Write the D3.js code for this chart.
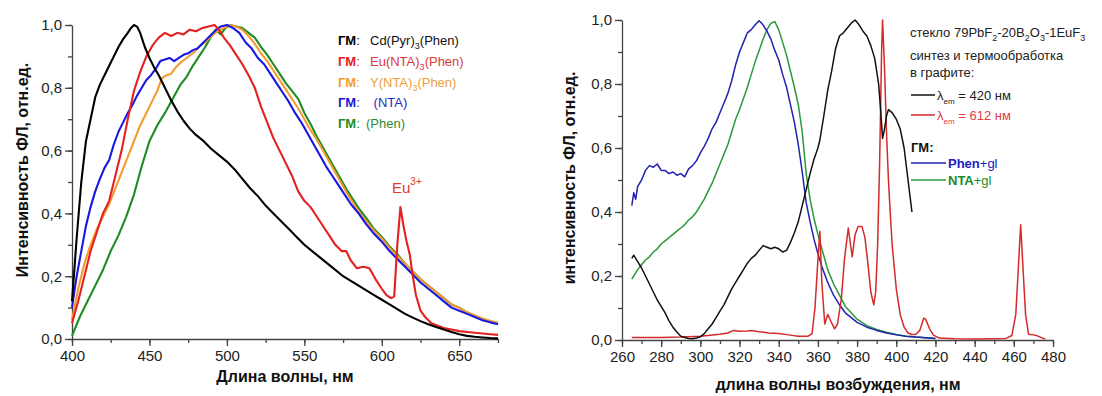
<!DOCTYPE html>
<html>
<head>
<meta charset="utf-8">
<script src="https://cdn.jsdelivr.net/npm/d3@7"></script>
<style>
  body { margin: 0; background: #fff; }
  svg text { font-family: Arial, "Liberation Sans", sans-serif; }
</style>
</head>
<body>
<div id="chart_div"></div>
<script>
// ---- data: left panel, emission spectra (nm, rel. intensity) ----
var cdPyrPhen = [[400,0.12],[403,0.32],[406,0.5],[409,0.63],[412,0.7],[415,0.77],[418,0.81],[421,0.84],[424,0.87],[427,0.9],[430,0.93],[433,0.955],[436,0.975],[438,0.99],[440,1.0],[442,0.995],[444,0.975],[447,0.93],[450,0.895],[453,0.865],[456,0.84],[460,0.8],[464,0.76],[468,0.725],[472,0.695],[476,0.67],[480,0.65],[485,0.63],[490,0.605],[495,0.585],[500,0.565],[505,0.54],[510,0.51],[515,0.48],[520,0.455],[525,0.425],[530,0.4],[535,0.375],[540,0.35],[545,0.325],[550,0.3],[555,0.28],[560,0.26],[565,0.24],[570,0.22],[575,0.2],[580,0.185],[585,0.17],[590,0.155],[595,0.14],[600,0.125],[605,0.11],[610,0.095],[615,0.08],[620,0.068],[625,0.057],[630,0.047],[635,0.038],[640,0.03],[645,0.022],[650,0.015],[655,0.01],[660,0.007],[665,0.005],[670,0.003],[675,0.002]];
var euNtaPhen = [[400,0.05],[404,0.12],[408,0.2],[412,0.28],[416,0.34],[420,0.4],[424,0.44],[428,0.52],[432,0.6],[436,0.7],[440,0.79],[444,0.85],[448,0.9],[452,0.935],[456,0.96],[460,0.975],[464,0.965],[468,0.975],[472,0.97],[476,0.985],[480,0.98],[484,0.99],[488,0.995],[492,1.0],[495,0.985],[498,0.96],[502,0.935],[506,0.905],[510,0.875],[514,0.84],[518,0.8],[522,0.74],[526,0.69],[530,0.64],[534,0.6],[538,0.56],[542,0.52],[546,0.47],[550,0.44],[554,0.42],[558,0.39],[562,0.36],[566,0.33],[570,0.3],[574,0.28],[577,0.28],[580,0.25],[584,0.225],[588,0.23],[592,0.225],[596,0.19],[600,0.16],[603,0.14],[606,0.13],[608,0.135],[610,0.3],[612,0.42],[614,0.36],[616,0.31],[618,0.27],[620,0.2],[622,0.14],[625,0.09],[628,0.07],[632,0.05],[640,0.035],[650,0.025],[660,0.02],[670,0.015],[675,0.013]];
var yNtaPhen = [[400,0.06],[404,0.16],[408,0.24],[412,0.3],[416,0.35],[420,0.39],[424,0.43],[428,0.48],[432,0.53],[436,0.58],[440,0.63],[444,0.68],[448,0.72],[452,0.76],[455,0.79],[458,0.83],[461,0.84],[464,0.845],[467,0.865],[470,0.88],[474,0.895],[478,0.91],[482,0.93],[486,0.945],[490,0.965],[494,0.98],[498,0.99],[502,1.0],[506,0.995],[510,0.985],[514,0.965],[518,0.94],[522,0.91],[526,0.885],[530,0.855],[534,0.825],[538,0.795],[542,0.765],[546,0.735],[550,0.7],[554,0.665],[558,0.635],[562,0.6],[566,0.565],[570,0.53],[574,0.495],[578,0.46],[582,0.43],[586,0.4],[590,0.375],[595,0.345],[600,0.32],[605,0.29],[610,0.265],[615,0.24],[620,0.215],[625,0.19],[630,0.17],[635,0.15],[640,0.13],[645,0.11],[650,0.1],[655,0.085],[660,0.075],[665,0.065],[670,0.058],[675,0.052]];
var ntaOnly = [[400,0.1],[403,0.2],[406,0.28],[409,0.36],[412,0.42],[415,0.47],[418,0.51],[421,0.545],[424,0.57],[427,0.62],[430,0.66],[433,0.69],[436,0.72],[439,0.745],[442,0.775],[445,0.8],[448,0.825],[451,0.84],[454,0.86],[457,0.885],[460,0.89],[463,0.895],[466,0.885],[469,0.895],[472,0.905],[475,0.91],[478,0.92],[481,0.925],[484,0.94],[487,0.955],[490,0.97],[493,0.985],[496,0.995],[500,1.0],[504,0.99],[508,0.975],[512,0.945],[516,0.925],[520,0.895],[524,0.875],[528,0.845],[532,0.815],[536,0.785],[540,0.755],[544,0.72],[548,0.69],[552,0.655],[556,0.62],[560,0.585],[564,0.55],[568,0.52],[572,0.49],[576,0.46],[580,0.43],[585,0.4],[590,0.365],[595,0.335],[600,0.31],[605,0.28],[610,0.255],[615,0.23],[620,0.205],[625,0.18],[630,0.16],[635,0.14],[640,0.12],[645,0.1],[650,0.09],[655,0.08],[660,0.07],[665,0.06],[670,0.053],[675,0.047]];
var phenOnly = [[400,0.01],[405,0.07],[410,0.12],[415,0.17],[420,0.22],[425,0.28],[430,0.33],[435,0.39],[440,0.46],[445,0.55],[450,0.63],[455,0.68],[460,0.72],[465,0.765],[470,0.81],[474,0.835],[478,0.87],[482,0.9],[486,0.93],[490,0.965],[493,0.985],[496,0.97],[499,0.99],[502,1.0],[506,0.995],[510,0.99],[514,0.975],[518,0.96],[522,0.93],[526,0.905],[530,0.875],[534,0.845],[538,0.815],[542,0.79],[546,0.765],[550,0.72],[554,0.685],[558,0.645],[562,0.61],[566,0.575],[570,0.54],[574,0.505],[578,0.47],[582,0.44],[586,0.41],[590,0.385],[595,0.35],[600,0.325],[605,0.295],[610,0.27],[615,0.24],[620,0.215],[625,0.19],[630,0.17],[635,0.15],[640,0.13],[645,0.11],[650,0.1],[655,0.085],[660,0.073],[665,0.064],[670,0.056],[675,0.05]];

// ---- data: right panel, excitation spectra ----
var phenGl = [[265,0.42],[266,0.46],[267,0.44],[268,0.48],[270,0.5],[272,0.53],[274,0.545],[276,0.54],[278,0.55],[280,0.53],[282,0.53],[284,0.52],[286,0.525],[288,0.515],[290,0.52],[292,0.51],[294,0.535],[296,0.545],[298,0.56],[300,0.585],[302,0.605],[304,0.63],[306,0.66],[308,0.68],[310,0.71],[312,0.74],[314,0.77],[316,0.81],[318,0.86],[320,0.9],[322,0.93],[324,0.96],[326,0.97],[328,0.985],[330,0.998],[332,0.985],[334,0.965],[336,0.94],[338,0.905],[340,0.875],[342,0.83],[344,0.79],[346,0.735],[348,0.68],[350,0.61],[352,0.525],[354,0.43],[356,0.37],[358,0.315],[360,0.27],[362,0.23],[365,0.18],[368,0.14],[371,0.11],[374,0.085],[377,0.07],[380,0.055],[385,0.04],[390,0.03],[395,0.022],[400,0.016],[405,0.012],[410,0.009],[415,0.007],[420,0.005]];
var ntaGl = [[265,0.19],[266,0.2],[268,0.22],[270,0.235],[272,0.25],[274,0.26],[276,0.275],[278,0.285],[280,0.3],[282,0.31],[284,0.32],[286,0.33],[288,0.34],[290,0.35],[292,0.36],[294,0.375],[296,0.385],[298,0.4],[300,0.42],[302,0.44],[304,0.465],[306,0.49],[308,0.52],[310,0.55],[312,0.58],[314,0.61],[316,0.65],[318,0.69],[320,0.72],[322,0.755],[324,0.79],[326,0.83],[328,0.87],[330,0.905],[332,0.94],[334,0.97],[336,0.99],[338,0.995],[340,0.97],[342,0.93],[344,0.89],[346,0.84],[348,0.79],[350,0.735],[352,0.65],[354,0.52],[356,0.44],[358,0.38],[360,0.33],[362,0.285],[365,0.22],[368,0.175],[371,0.14],[374,0.105],[377,0.085],[380,0.065],[385,0.045],[390,0.033],[395,0.024],[400,0.017],[405,0.012],[410,0.009],[415,0.007],[420,0.005]];
var em420 = [[265,0.255],[266,0.265],[267,0.255],[268,0.245],[270,0.225],[272,0.2],[274,0.175],[276,0.15],[278,0.125],[280,0.105],[282,0.085],[284,0.06],[286,0.04],[288,0.025],[290,0.012],[292,0.008],[294,0.005],[296,0.004],[298,0.006],[300,0.01],[302,0.02],[304,0.035],[306,0.05],[308,0.07],[310,0.09],[312,0.11],[314,0.135],[316,0.16],[318,0.18],[320,0.2],[322,0.22],[324,0.24],[326,0.255],[328,0.265],[330,0.28],[332,0.295],[334,0.29],[336,0.285],[338,0.29],[340,0.285],[342,0.275],[344,0.28],[346,0.305],[348,0.335],[350,0.37],[352,0.42],[354,0.47],[356,0.52],[358,0.565],[360,0.6],[361,0.625],[363,0.7],[365,0.78],[367,0.84],[369,0.91],[371,0.95],[373,0.96],[375,0.975],[377,0.99],[379,1.0],[381,0.985],[383,0.965],[385,0.95],[387,0.92],[389,0.88],[391,0.8],[392,0.72],[393,0.63],[394,0.66],[395,0.7],[396,0.72],[398,0.71],[400,0.69],[402,0.66],[404,0.6],[406,0.5],[407,0.45],[408,0.4]];
var em612 = [[265,0.008],[270,0.008],[280,0.008],[290,0.009],[300,0.012],[305,0.015],[310,0.018],[314,0.022],[317,0.03],[320,0.027],[324,0.028],[326,0.03],[330,0.026],[335,0.022],[340,0.02],[345,0.016],[350,0.012],[355,0.012],[357,0.02],[358.5,0.1],[360,0.25],[361,0.34],[362,0.18],[363.5,0.05],[365,0.08],[366.5,0.06],[368.5,0.035],[370,0.05],[372,0.13],[373.5,0.25],[375.5,0.35],[377.5,0.26],[379,0.33],[380.5,0.355],[382.5,0.355],[384,0.32],[385.5,0.24],[387,0.15],[388.5,0.11],[389.5,0.15],[390.5,0.3],[391.5,0.55],[392.5,0.9],[393,1.0],[394,0.85],[395,0.65],[396,0.5],[397,0.39],[398,0.29],[400,0.16],[402,0.08],[404,0.04],[406,0.022],[408,0.017],[410,0.018],[412,0.03],[414,0.068],[415,0.065],[417,0.035],[419,0.015],[422,0.006],[430,0.004],[440,0.003],[450,0.004],[456,0.005],[459,0.014],[461,0.08],[462,0.19],[463.5,0.36],[465,0.19],[466,0.08],[467.5,0.018],[470,0.016],[472,0.013],[475,0.005],[476,0.003]];

var leftXTicks = [400, 450, 500, 550, 600, 650];
var rightXTicks = [260, 280, 300, 320, 340, 360, 380, 400, 420, 440, 460, 480];
var yTicks = [0, 0.2, 0.4, 0.6, 0.8, 1.0];

var w = 1102, h = 396;
var svg = d3.select("#chart_div").append("svg")
    .attr("width", w).attr("height", h);

function fmt(d){ return d3.format(".1f")(d).replace(".", ","); }

function draw_axes(g, x, y, xTicks, xMinorStep){
    var xr = x.domain();
    var minor = d3.range(xr[0], xr[1] + 0.001, xMinorStep);
    g.append("g").attr("transform", "translate(0," + y(0) + ")")
        .call(d3.axisBottom(x).tickValues(minor).tickSize(4).tickFormat(""))
        .call(s => s.select(".domain").remove());
    g.append("g").attr("transform", "translate(0," + y(0) + ")")
        .call(d3.axisBottom(x).tickValues(xTicks).tickSize(7).tickSizeOuter(0).tickPadding(4).tickFormat(d3.format("d")));
    g.append("g").attr("transform", "translate(" + x(xr[0]) + ",0)")
        .call(d3.axisLeft(y).tickValues(d3.range(0, 1.01, 0.1)).tickSize(4).tickFormat(""))
        .call(s => s.select(".domain").remove());
    g.append("g").attr("transform", "translate(" + x(xr[0]) + ",0)")
        .call(d3.axisLeft(y).tickValues(yTicks).tickSize(7).tickSizeOuter(0).tickPadding(3).tickFormat(fmt));
    g.selectAll(".domain, .tick line").attr("stroke", "#444").attr("stroke-width", 1.3);
    g.selectAll(".tick text").attr("font-size", "15px").attr("fill", "#222")
        .style("font-family", "Arial, 'Liberation Sans', sans-serif");
}

// ---------------- left panel ----------------
var xL = d3.scaleLinear().domain([400, 675]).range([72, 498]);
var yL = d3.scaleLinear().domain([0, 1]).range([339, 25]);
var gL = svg.append("g");
draw_axes(gL, xL, yL, leftXTicks, 25);

var lineL = d3.line().x(d => xL(d[0])).y(d => yL(d[1]));
var leftSeries = [
    {data: phenOnly, color: "#1e8c24"},
    {data: yNtaPhen, color: "#f39b2f"},
    {data: ntaOnly, color: "#1818e0"},
    {data: euNtaPhen, color: "#e42020"},
    {data: cdPyrPhen, color: "#000000"}
];
leftSeries.forEach(function(s){
    gL.append("path").attr("d", lineL(s.data))
        .attr("fill", "none").attr("stroke", s.color).attr("stroke-width", 2.1)
        .attr("stroke-linejoin", "round");
});

var leftLegend = [
    {name: ["Cd(Pyr)", "3", "(Phen)"], color: "#000000", text: "#111"},
    {name: ["Eu(NTA)", "3", "(Phen)"], color: "#e42020", text: "#d83a3a"},
    {name: ["Y(NTA)", "3", "(Phen)"], color: "#f39b2f", text: "#eea040"},
    {name: [" (NTA)"], color: "#1818d0", text: "#2a2ab8"},
    {name: ["(Phen)"], color: "#1e8c24", text: "#2e8a34"}
];
leftLegend.forEach(function(d, i){
    var t = gL.append("text").attr("x", 338).attr("y", 45 + i * 20.8).attr("font-size", "13px");
    t.append("tspan").attr("font-weight", "bold").attr("fill", d.color).text("ГМ");
    t.append("tspan").attr("fill", d.color).text(":");
    var nt = gL.append("text").attr("x", i == 4 ? 366 : 370).attr("y", 45 + i * 20.8)
        .attr("font-size", "13px").attr("fill", d.text).attr("xml:space", "preserve");
    nt.append("tspan").text(d.name[0]);
    if (d.name.length > 1){
        nt.append("tspan").attr("font-size", "9px").attr("dy", 4).text(d.name[1]);
        nt.append("tspan").attr("dy", -4).text(d.name[2]);
    }
});
var eu = gL.append("text").attr("x", 392).attr("y", 193).attr("font-size", "15px").attr("fill", "#d83a3a");
eu.append("tspan").text("Eu");
eu.append("tspan").attr("font-size", "10px").attr("dy", -8).text("3+");

gL.append("text").attr("x", 285).attr("y", 382).attr("text-anchor", "middle")
    .attr("font-size", "16px").attr("font-weight", "bold").attr("fill", "#111")
    .text("Длина волны, нм");
gL.append("text").attr("transform", "translate(28,170) rotate(-90)").attr("text-anchor", "middle")
    .attr("font-size", "16px").attr("font-weight", "bold").attr("fill", "#111")
    .text("Интенсивность ФЛ, отн.ед.");

// ---------------- right panel ----------------
var xR = d3.scaleLinear().domain([260, 480]).range([622, 1053]);
var yR = d3.scaleLinear().domain([0, 1]).range([340, 20]);
var gR = svg.append("g");
draw_axes(gR, xR, yR, rightXTicks, 10);

var lineR = d3.line().x(d => xR(d[0])).y(d => yR(d[1]));
var rightSeries = [
    {data: ntaGl, color: "#2a9a3a"},
    {data: phenGl, color: "#2222b0"},
    {data: em612, color: "#d42a2a"},
    {data: em420, color: "#111111"}
];
rightSeries.forEach(function(s){
    gR.append("path").attr("d", lineR(s.data))
        .attr("fill", "none").attr("stroke", s.color).attr("stroke-width", 1.5)
        .attr("stroke-linejoin", "round");
});

var lg = gR.append("g").attr("font-size", "13px");
var t1 = lg.append("text").attr("x", 910).attr("y", 37).attr("fill", "#222");
t1.append("tspan").text("стекло 79PbF");
t1.append("tspan").attr("font-size", "9px").attr("dy", 4).text("2");
t1.append("tspan").attr("dy", -4).text("-20B");
t1.append("tspan").attr("font-size", "9px").attr("dy", 4).text("2");
t1.append("tspan").attr("dy", -4).text("O");
t1.append("tspan").attr("font-size", "9px").attr("dy", 4).text("3");
t1.append("tspan").attr("dy", -4).text("-1EuF");
t1.append("tspan").attr("font-size", "9px").attr("dy", 4).text("3");
lg.append("text").attr("x", 910).attr("y", 60).attr("fill", "#222").text("синтез и термообработка");
lg.append("text").attr("x", 910).attr("y", 77).attr("fill", "#222").text("в графите:");

var emLegend = [{lam: "420", color: "#111111", text: "#222", y: 95}, {lam: "612", color: "#d42a2a", text: "#e04040", y: 115}];
emLegend.forEach(function(d){
    lg.append("line").attr("x1", 911).attr("x2", 935).attr("y1", d.y).attr("y2", d.y)
        .attr("stroke", d.color).attr("stroke-width", 1.5);
    var t = lg.append("text").attr("x", 937).attr("y", d.y + 5).attr("fill", d.text);
    t.append("tspan").text("λ");
    t.append("tspan").attr("font-size", "8px").attr("dy", 4).text("em");
    t.append("tspan").attr("dy", -4).text(" = " + d.lam + " нм");
});
lg.append("text").attr("x", 911).attr("y", 152).attr("font-weight", "bold").attr("fill", "#111").text("ГМ:");
var glLegend = [{name: "Phen", color: "#2222b0", text: "#2020c8", y: 163}, {name: "NTA", color: "#2a9a3a", text: "#1e8a2a", y: 180}];
glLegend.forEach(function(d){
    lg.append("line").attr("x1", 911).attr("x2", 946).attr("y1", d.y).attr("y2", d.y)
        .attr("stroke", d.color).attr("stroke-width", 1.5);
    var t = lg.append("text").attr("x", 948).attr("y", d.y + 5).attr("fill", d.text);
    t.append("tspan").attr("font-weight", "bold").text(d.name);
    t.append("tspan").text("+gl");
});

gR.append("text").attr("x", 838).attr("y", 390).attr("text-anchor", "middle")
    .attr("font-size", "16px").attr("font-weight", "bold").attr("fill", "#111")
    .text("длина волны возбуждения, нм");
gR.append("text").attr("transform", "translate(575,178) rotate(-90)").attr("text-anchor", "middle")
    .attr("font-size", "16px").attr("font-weight", "bold").attr("fill", "#111")
    .text("интенсивность ФЛ, отн.ед.");
</script>
</body>
</html>
